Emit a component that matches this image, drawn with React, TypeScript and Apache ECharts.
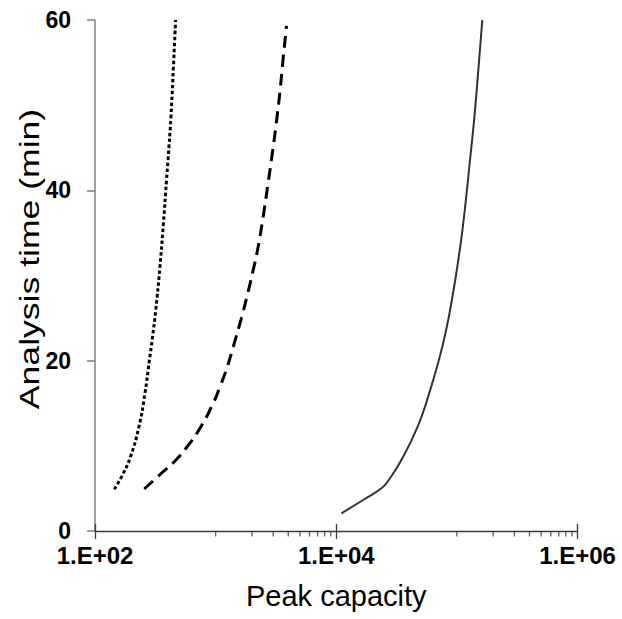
import React, { useEffect, useRef } from "react";
import * as echarts from "echarts";

// Dotted curve (short dashes)
const dottedCapacity = [144.5, 168.9, 196.8, 231.4, 259.5, 282.7, 297.7, 318.8, 345.4, 369.2, 391.7, 403.1, 426.1, 446.9, 466];
const dottedTime = [4.9, 6.58, 8.72, 12.24, 16.16, 20.08, 22.43, 25.95, 31.03, 36.13, 41.21, 43.56, 48.65, 54.52, 60];

// Dashed curve (long dashes)
const dashedCapacity = [256, 357, 469, 578, 727, 940, 1084, 1239, 1430, 1619, 1815, 2023, 2251, 2476, 2724, 2923, 3185, 3405, 3640, 3869];
const dashedTime = [4.93, 6.81, 8.34, 9.86, 11.86, 14.79, 16.91, 19.14, 22.08, 24.77, 27.48, 30.29, 33.35, 36.87, 40.86, 43.91, 47.91, 51.43, 55.66, 59.3];

// Solid curve
const solidCapacity = [11045, 16672, 23672, 27220, 34674, 47300, 58910, 71010, 81470, 91880, 101800, 111200, 121200, 128500, 139800, 151400, 162500];
const solidTime = [2.08, 3.64, 5.01, 5.99, 8.34, 12.25, 16.16, 20.08, 23.6, 27.51, 31.43, 35.34, 40.04, 43.56, 48.65, 54.52, 60];

// Axis settings
const xMin = 100;
const xMax = 1000000;
const yMin = 0;
const yMax = 60;
const yInterval = 20;
const minorTickValues = [1000, 2000, 3000, 4000, 5000, 6000, 7000, 8000, 9000, 100000, 200000, 300000, 400000, 500000, 600000, 700000, 800000, 900000];

const xTitle = "Peak capacity";
const yTitle = "Analysis time (min)";

const pairs = (xs: number[], ys: number[]) => xs.map((x, i) => [x, ys[i]]);

const fmtLog = (v: number) => {
  const e = Math.round(Math.log10(v));
  return "1.E+" + String(e).padStart(2, "0");
};

export default function App() {
  const ref = useRef<HTMLDivElement>(null);
  useEffect(() => {
    if (!ref.current) return;
    const chart = echarts.init(ref.current, undefined, { renderer: "svg" });
    const font = "'Liberation Sans', Arial, sans-serif";
    const xAxisColor = "#3a3a3a";
    const yAxisColor = "#7f7f7f";
    chart.setOption({
      animation: false,
      backgroundColor: "#ffffff",
      grid: { left: 95, right: 44.5, top: 20, bottom: 88, containLabel: false, outerBoundsMode: "none" },
      graphic: [
        {
          type: "text",
          x: 29,
          y: 259,
          rotation: Math.PI / 2,
          scaleX: 1.27,
          silent: true,
          style: {
            text: yTitle,
            font: "28px 'Liberation Sans', Arial, sans-serif",
            fill: "#000",
            align: "center",
            verticalAlign: "middle",
          },
        },
      ],
      xAxis: [
        {
          type: "log",
          logBase: 10,
          min: xMin,
          max: xMax,
          interval: 2,
          position: "bottom",
          name: xTitle,
          nameLocation: "middle",
          nameGap: 50,
          nameTextStyle: { fontFamily: font, fontSize: 29, color: "#000" },
          axisLine: { show: true, lineStyle: { color: xAxisColor, width: 1.3 } },
          axisTick: { show: true, inside: false, length: 8, lineStyle: { color: xAxisColor, width: 1.3 } },
          axisLabel: {
            show: true,
            margin: 12,
            fontFamily: font,
            fontWeight: "bold",
            fontSize: 24,
            color: "#000",
            formatter: (v: number) => fmtLog(v),
          },
          splitLine: { show: false },
          minorTick: { show: false },
        },
        {
          type: "log",
          logBase: 10,
          min: xMin,
          max: xMax,
          interval: 2,
          position: "bottom",
          axisLine: { show: false },
          axisTick: { show: true, inside: true, length: 7, lineStyle: { color: xAxisColor, width: 1.3 } },
          axisLabel: { show: false },
          splitLine: { show: false },
        },
      ],
      yAxis: {
        type: "value",
        min: yMin,
        max: yMax,
        interval: yInterval,
        axisLine: { show: true, lineStyle: { color: yAxisColor, width: 1.5 } },
        axisTick: { show: true, inside: false, length: 8, lineStyle: { color: yAxisColor, width: 1.5 } },
        axisLabel: {
          margin: 24,
          fontFamily: font,
          fontWeight: "bold",
          fontSize: 23,
          color: "#000",
        },
        splitLine: { show: false },
      },
      series: [
        {
          type: "scatter",
          xAxisIndex: 0,
          data: minorTickValues.map((v) => [v, 0]),
          symbol: "rect",
          symbolSize: [1.3, 5],
          symbolOffset: [0, 3],
          itemStyle: { color: xAxisColor },
          silent: true,
          clip: false,
          z: 1,
        },
        {
          type: "line",
          xAxisIndex: 0,
          data: pairs(dottedCapacity, dottedTime),
          smooth: 0.5,
          showSymbol: false,
          symbol: "none",
          lineStyle: { color: "#000", width: 3, type: [3.5, 2.5] },
        },
        {
          type: "line",
          xAxisIndex: 0,
          data: pairs(dashedCapacity, dashedTime),
          smooth: 0.5,
          showSymbol: false,
          symbol: "none",
          lineStyle: { color: "#000", width: 3, type: [12, 7] },
        },
        {
          type: "line",
          xAxisIndex: 0,
          data: pairs(solidCapacity, solidTime),
          smooth: 0.5,
          showSymbol: false,
          symbol: "none",
          lineStyle: { color: "#333", width: 2 },
        },
      ],
    });
    return () => chart.dispose();
  }, []);
  return (
    <div
      ref={ref}
      style={{ position: "fixed", left: 0, top: 0, width: 622, height: 619, background: "#fff" }}
    />
  );
}
